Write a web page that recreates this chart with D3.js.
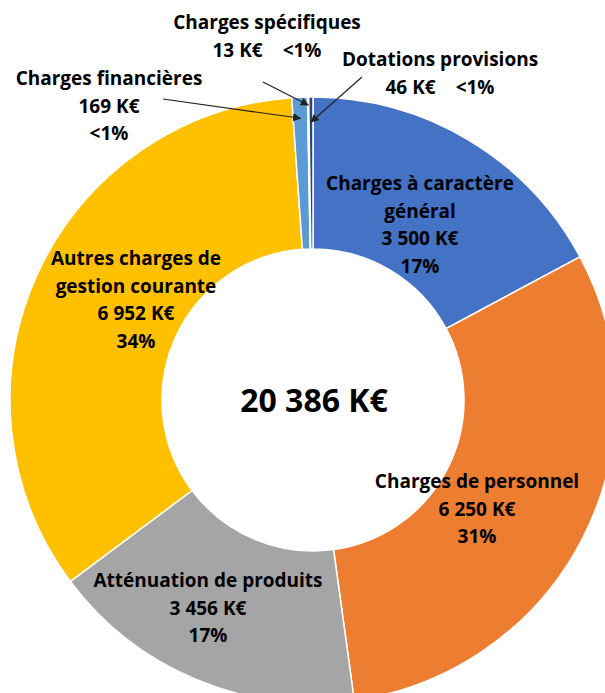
<!DOCTYPE html>
<html>
<head>
<meta charset="utf-8">
<script src="https://cdn.jsdelivr.net/npm/d3@7"></script>
<style>
  body { margin: 0; background: #fff; }
  text { font-family: "Open Sans", Lato, sans-serif; font-weight: 700; fill: #000; }
</style>
</head>
<body>
<div id="container"></div>
<script>
// Data
const categories = [
  "Charges à caractère\ngénéral",
  "Charges de personnel",
  "Atténuation de produits",
  "Autres charges de\ngestion courante",
  "Charges financières",
  "Charges spécifiques",
  "Dotations provisions"
];
const values = [3500, 6250, 3456, 6952, 169, 13, 46];
const colors = ["#4472C4", "#ED7D31", "#A5A5A5", "#FFC000", "#5B9BD5", "#70AD47", "#264478"];

const width = 605;
const height = 693;
const cx = 313, cy = 400;
const outerR = 303, innerR = 151;
const lineH = 27.7;

// label placement (first baseline + centre x), leader lines for the tiny slices
const labelLayout = [
  { x: 420, y: 190 },
  { x: 477, y: 488 },
  { x: 208, y: 587 },
  { x: 136, y: 265 },
  { x: 109, y: 85, leader: { from: [163, 99], r: 282 } },
  { x: 267, y: 29, inline: true, leader: { from: [263, 82], r: 295 } },
  { x: 440, y: 66, inline: true, leader: { from: [362, 77], r: 278 } }
];

const total = d3.sum(values);
const fmtNum = v => d3.format(",")(v).replace(/,/g, " ") + " K€";
const fmtPct = v => (v / total * 100 < 1 ? "<1%" : Math.round(v / total * 100) + "%");

const svg = d3.select("#container")
  .append("svg")
  .attr("width", width)
  .attr("height", height);

svg.append("defs").append("marker")
  .attr("id", "arrow")
  .attr("viewBox", "0 0 10 10")
  .attr("refX", 9)
  .attr("refY", 5)
  .attr("markerWidth", 7)
  .attr("markerHeight", 7)
  .attr("orient", "auto")
  .append("path")
  .attr("d", "M0,0 L10,5 L0,10 z")
  .attr("fill", "#222");

const pie = d3.pie().sort(null).value(d => d)(values);
const arc = d3.arc().innerRadius(innerR).outerRadius(outerR);

const g = svg.append("g").attr("transform", `translate(${cx},${cy})`);

g.selectAll("path")
  .data(pie)
  .join("path")
  .attr("d", arc)
  .attr("fill", (d, i) => colors[i])
  .attr("stroke", "#fff")
  .attr("stroke-width", 1.5);

// centre total
svg.append("text")
  .attr("x", cx + 1)
  .attr("y", 412)
  .attr("text-anchor", "middle")
  .style("font-size", "32px")
  .text(fmtNum(total));

// labels
pie.forEach((d, i) => {
  const L = labelLayout[i];
  const t = svg.append("text")
    .attr("text-anchor", "middle")
    .style("font-size", "19px");
  const nameLines = categories[i].split("\n");
  let k = 0;
  nameLines.forEach(line => {
    t.append("tspan").attr("x", L.x).attr("y", L.y + lineH * k++).text(line);
  });
  if (L.inline) {
    t.append("tspan").attr("x", L.x).attr("y", L.y + lineH * k).text(fmtNum(values[i]));
    t.append("tspan").attr("dx", 20).text(fmtPct(values[i]));
  } else {
    t.append("tspan").attr("x", L.x).attr("y", L.y + lineH * k++).text(fmtNum(values[i]));
    t.append("tspan").attr("x", L.x).attr("y", L.y + lineH * k++).text(fmtPct(values[i]));
  }

  if (L.leader) {
    const a = (d.startAngle + d.endAngle) / 2;
    const ex = cx + L.leader.r * Math.sin(a);
    const ey = cy - L.leader.r * Math.cos(a);
    svg.append("line")
      .attr("x1", L.leader.from[0])
      .attr("y1", L.leader.from[1])
      .attr("x2", ex)
      .attr("y2", ey)
      .attr("stroke", "#222")
      .attr("stroke-width", 1.2)
      .attr("marker-end", "url(#arrow)");
  }
});
</script>
</body>
</html>
